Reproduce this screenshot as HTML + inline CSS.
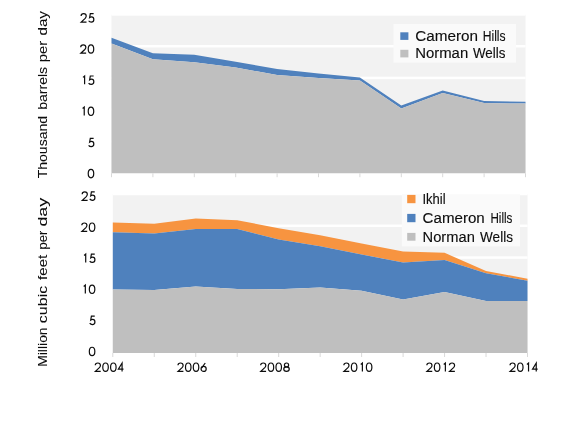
<!DOCTYPE html>
<html><head><meta charset="utf-8"><style>
html,body{margin:0;padding:0;background:#fff;width:580px;height:428px;overflow:hidden}
svg{display:block;will-change:transform}
text{font-family:"Liberation Sans",sans-serif;fill:#0d0d0d;stroke:#0d0d0d;stroke-width:0.12px}
</style></head><body>
<svg width="580" height="428" viewBox="0 0 580 428">
<rect width="580" height="428" fill="#fff"/>

<rect x="111.5" y="14.45" width="414.00" height="158.75" fill="#f2f2f2"/>
<rect x="111.5" y="171.95" width="414.00" height="2.5" fill="#fff"/>
<rect x="111.5" y="140.20" width="414.00" height="2.5" fill="#fff"/>
<rect x="111.5" y="108.45" width="414.00" height="2.5" fill="#fff"/>
<rect x="111.5" y="76.70" width="414.00" height="2.5" fill="#fff"/>
<rect x="111.5" y="44.95" width="414.00" height="2.5" fill="#fff"/>
<rect x="111.5" y="13.20" width="414.00" height="2.5" fill="#fff"/>
<path d="M111.50,37.70 L152.90,53.20 L194.30,54.70 L235.70,61.80 L277.10,69.00 L318.50,73.50 L359.90,77.50 L401.30,105.50 L442.70,90.50 L484.10,101.00 L525.50,101.80 L525.50,103.60 L484.10,103.10 L442.70,93.10 L401.30,108.60 L359.90,80.60 L318.50,78.10 L277.10,75.00 L235.70,67.40 L194.30,62.20 L152.90,59.20 L111.50,43.60 Z" fill="#4f81bd"/>
<path d="M111.50,43.60 L152.90,59.20 L194.30,62.20 L235.70,67.40 L277.10,75.00 L318.50,78.10 L359.90,80.60 L401.30,108.60 L442.70,93.10 L484.10,103.10 L525.50,103.60 L525.50,173.20 L111.50,173.20 Z" fill="#bfbfbf"/>
<rect x="111.00" y="173.20" width="1" height="4" fill="#d9d9d9"/>
<rect x="152.40" y="173.20" width="1" height="4" fill="#d9d9d9"/>
<rect x="193.80" y="173.20" width="1" height="4" fill="#d9d9d9"/>
<rect x="235.20" y="173.20" width="1" height="4" fill="#d9d9d9"/>
<rect x="276.60" y="173.20" width="1" height="4" fill="#d9d9d9"/>
<rect x="318.00" y="173.20" width="1" height="4" fill="#d9d9d9"/>
<rect x="359.40" y="173.20" width="1" height="4" fill="#d9d9d9"/>
<rect x="400.80" y="173.20" width="1" height="4" fill="#d9d9d9"/>
<rect x="442.20" y="173.20" width="1" height="4" fill="#d9d9d9"/>
<rect x="483.60" y="173.20" width="1" height="4" fill="#d9d9d9"/>
<rect x="525.00" y="173.20" width="1" height="4" fill="#d9d9d9"/>
<g transform="translate(87.65,168.85) scale(0.0950,0.0950)" fill="none" stroke="#0d0d0d" stroke-width="12.63" vector-effect="none"><g transform="translate(0,0)"><ellipse cx="35" cy="50" rx="29" ry="44"/></g></g>
<g transform="translate(88.03,137.71) scale(0.0950,0.0950)" fill="none" stroke="#0d0d0d" stroke-width="12.63" vector-effect="none"><g transform="translate(0,0)"><path d="M59,6 L24,6 L17,46 C23,41 29,39 36,39 C51,39 61,51 61,67 C61,83 50,94 34,94 C22,94 12,88 6,80"/></g></g>
<g transform="translate(82.14,106.57) scale(0.0950,0.0950)" fill="none" stroke="#0d0d0d" stroke-width="12.63" vector-effect="none"><g transform="translate(0,0)"><path d="M5,21 L22,6 L22,94"/></g><g transform="translate(58,0)"><ellipse cx="35" cy="50" rx="29" ry="44"/></g></g>
<g transform="translate(82.52,75.43) scale(0.0950,0.0950)" fill="none" stroke="#0d0d0d" stroke-width="12.63" vector-effect="none"><g transform="translate(0,0)"><path d="M5,21 L22,6 L22,94"/></g><g transform="translate(58,0)"><path d="M59,6 L24,6 L17,46 C23,41 29,39 36,39 C51,39 61,51 61,67 C61,83 50,94 34,94 C22,94 12,88 6,80"/></g></g>
<g transform="translate(80.05,44.29) scale(0.0950,0.0950)" fill="none" stroke="#0d0d0d" stroke-width="12.63" vector-effect="none"><g transform="translate(0,0)"><path d="M7,30 C7,15 19,6 34,6 C50,6 61,17 61,31 C61,40 57,47 50,55 L8,94 L64,94"/></g><g transform="translate(80,0)"><ellipse cx="35" cy="50" rx="29" ry="44"/></g></g>
<g transform="translate(80.43,13.15) scale(0.0950,0.0950)" fill="none" stroke="#0d0d0d" stroke-width="12.63" vector-effect="none"><g transform="translate(0,0)"><path d="M7,30 C7,15 19,6 34,6 C50,6 61,17 61,31 C61,40 57,47 50,55 L8,94 L64,94"/></g><g transform="translate(80,0)"><path d="M59,6 L24,6 L17,46 C23,41 29,39 36,39 C51,39 61,51 61,67 C61,83 50,94 34,94 C22,94 12,88 6,80"/></g></g>
<text transform="translate(47.4,178.30) rotate(-90)" font-size="13.5" style="stroke-width:0.05px" textLength="62.40" lengthAdjust="spacingAndGlyphs">Thousand</text>
<text transform="translate(47.4,109.80) rotate(-90)" font-size="13.5" style="stroke-width:0.05px" textLength="42.90" lengthAdjust="spacingAndGlyphs">barrels</text>
<text transform="translate(47.4,62.20) rotate(-90)" font-size="13.5" style="stroke-width:0.05px" textLength="21.40" lengthAdjust="spacingAndGlyphs">per</text>
<text transform="translate(47.4,35.60) rotate(-90)" font-size="13.5" style="stroke-width:0.05px" textLength="24.60" lengthAdjust="spacingAndGlyphs">day</text>
<rect x="393.5" y="24" width="122.5" height="38.6" fill="#fafafa"/>
<rect x="400.3" y="32.3" width="8.1" height="7.6" fill="#4f81bd"/>
<rect x="400.3" y="49.8" width="8.1" height="7.6" fill="#bfbfbf"/>
<text x="415.20" y="40.70" font-size="14" textLength="62.80" lengthAdjust="spacingAndGlyphs">Cameron</text>
<text x="482.70" y="40.70" font-size="14" textLength="22.90" lengthAdjust="spacingAndGlyphs">Hills</text>
<text x="415.20" y="58.40" font-size="14" textLength="53.00" lengthAdjust="spacingAndGlyphs">Norman</text>
<text x="473.00" y="58.40" font-size="14" textLength="32.40" lengthAdjust="spacingAndGlyphs">Wells</text>
<rect x="112.8" y="194.00" width="414.70" height="159.00" fill="#f2f2f2"/>
<rect x="112.8" y="351.75" width="414.70" height="2.5" fill="#fff"/>
<rect x="112.8" y="319.95" width="414.70" height="2.5" fill="#fff"/>
<rect x="112.8" y="288.15" width="414.70" height="2.5" fill="#fff"/>
<rect x="112.8" y="256.35" width="414.70" height="2.5" fill="#fff"/>
<rect x="112.8" y="224.55" width="414.70" height="2.5" fill="#fff"/>
<rect x="112.8" y="192.75" width="414.70" height="2.5" fill="#fff"/>
<path d="M112.80,222.45 L154.27,223.80 L195.74,218.50 L237.21,220.20 L278.68,228.30 L320.15,235.20 L361.62,243.50 L403.09,251.40 L444.56,252.80 L486.03,270.90 L527.50,278.80 L527.50,280.80 L486.03,273.20 L444.56,260.00 L403.09,262.40 L361.62,254.50 L320.15,246.30 L278.68,239.60 L237.21,228.90 L195.74,228.90 L154.27,233.60 L112.80,232.30 Z" fill="#f79440"/>
<path d="M112.80,232.30 L154.27,233.60 L195.74,228.90 L237.21,228.90 L278.68,239.60 L320.15,246.30 L361.62,254.50 L403.09,262.40 L444.56,260.00 L486.03,273.20 L527.50,280.80 L527.50,301.10 L486.03,301.00 L444.56,292.10 L403.09,299.50 L361.62,290.80 L320.15,287.40 L278.68,289.20 L237.21,288.90 L195.74,286.60 L154.27,289.90 L112.80,289.40 Z" fill="#4f81bd"/>
<path d="M112.80,289.40 L154.27,289.90 L195.74,286.60 L237.21,288.90 L278.68,289.20 L320.15,287.40 L361.62,290.80 L403.09,299.50 L444.56,292.10 L486.03,301.00 L527.50,301.10 L527.50,353.00 L112.80,353.00 Z" fill="#bfbfbf"/>
<rect x="112.30" y="353.00" width="1" height="4" fill="#d9d9d9"/>
<rect x="153.77" y="353.00" width="1" height="4" fill="#d9d9d9"/>
<rect x="195.24" y="353.00" width="1" height="4" fill="#d9d9d9"/>
<rect x="236.71" y="353.00" width="1" height="4" fill="#d9d9d9"/>
<rect x="278.18" y="353.00" width="1" height="4" fill="#d9d9d9"/>
<rect x="319.65" y="353.00" width="1" height="4" fill="#d9d9d9"/>
<rect x="361.12" y="353.00" width="1" height="4" fill="#d9d9d9"/>
<rect x="402.59" y="353.00" width="1" height="4" fill="#d9d9d9"/>
<rect x="444.06" y="353.00" width="1" height="4" fill="#d9d9d9"/>
<rect x="485.53" y="353.00" width="1" height="4" fill="#d9d9d9"/>
<rect x="527.00" y="353.00" width="1" height="4" fill="#d9d9d9"/>
<g transform="translate(88.75,346.70) scale(0.0950,0.0950)" fill="none" stroke="#0d0d0d" stroke-width="12.63" vector-effect="none"><g transform="translate(0,0)"><ellipse cx="35" cy="50" rx="29" ry="44"/></g></g>
<g transform="translate(89.13,315.63) scale(0.0950,0.0950)" fill="none" stroke="#0d0d0d" stroke-width="12.63" vector-effect="none"><g transform="translate(0,0)"><path d="M59,6 L24,6 L17,46 C23,41 29,39 36,39 C51,39 61,51 61,67 C61,83 50,94 34,94 C22,94 12,88 6,80"/></g></g>
<g transform="translate(83.24,284.56) scale(0.0950,0.0950)" fill="none" stroke="#0d0d0d" stroke-width="12.63" vector-effect="none"><g transform="translate(0,0)"><path d="M5,21 L22,6 L22,94"/></g><g transform="translate(58,0)"><ellipse cx="35" cy="50" rx="29" ry="44"/></g></g>
<g transform="translate(83.62,253.49) scale(0.0950,0.0950)" fill="none" stroke="#0d0d0d" stroke-width="12.63" vector-effect="none"><g transform="translate(0,0)"><path d="M5,21 L22,6 L22,94"/></g><g transform="translate(58,0)"><path d="M59,6 L24,6 L17,46 C23,41 29,39 36,39 C51,39 61,51 61,67 C61,83 50,94 34,94 C22,94 12,88 6,80"/></g></g>
<g transform="translate(81.15,222.42) scale(0.0950,0.0950)" fill="none" stroke="#0d0d0d" stroke-width="12.63" vector-effect="none"><g transform="translate(0,0)"><path d="M7,30 C7,15 19,6 34,6 C50,6 61,17 61,31 C61,40 57,47 50,55 L8,94 L64,94"/></g><g transform="translate(80,0)"><ellipse cx="35" cy="50" rx="29" ry="44"/></g></g>
<g transform="translate(81.53,191.35) scale(0.0950,0.0950)" fill="none" stroke="#0d0d0d" stroke-width="12.63" vector-effect="none"><g transform="translate(0,0)"><path d="M7,30 C7,15 19,6 34,6 C50,6 61,17 61,31 C61,40 57,47 50,55 L8,94 L64,94"/></g><g transform="translate(80,0)"><path d="M59,6 L24,6 L17,46 C23,41 29,39 36,39 C51,39 61,51 61,67 C61,83 50,94 34,94 C22,94 12,88 6,80"/></g></g>
<text transform="translate(47.4,366.80) rotate(-90)" font-size="13.5" style="stroke-width:0.05px" textLength="39.40" lengthAdjust="spacingAndGlyphs">Million</text>
<text transform="translate(47.4,323.20) rotate(-90)" font-size="13.5" style="stroke-width:0.05px" textLength="37.40" lengthAdjust="spacingAndGlyphs">cubic</text>
<text transform="translate(47.4,280.00) rotate(-90)" font-size="13.5" style="stroke-width:0.05px" textLength="25.30" lengthAdjust="spacingAndGlyphs">feet</text>
<text transform="translate(47.4,249.50) rotate(-90)" font-size="13.5" style="stroke-width:0.05px" textLength="18.70" lengthAdjust="spacingAndGlyphs">per</text>
<text transform="translate(47.4,226.60) rotate(-90)" font-size="13.5" style="stroke-width:0.05px" textLength="28.80" lengthAdjust="spacingAndGlyphs">day</text>
<g transform="translate(94.62,362.45) scale(0.0950,0.0950)" fill="none" stroke="#0d0d0d" stroke-width="12.63" vector-effect="none"><g transform="translate(0,0)"><path d="M7,30 C7,15 19,6 34,6 C50,6 61,17 61,31 C61,40 57,47 50,55 L8,94 L64,94"/></g><g transform="translate(80,0)"><ellipse cx="35" cy="50" rx="29" ry="44"/></g><g transform="translate(162,0)"><ellipse cx="35" cy="50" rx="29" ry="44"/></g><g transform="translate(244,0)"><path d="M45,94 L45,6 L6,70 L60,70"/></g></g>
<g transform="translate(177.32,362.45) scale(0.0950,0.0950)" fill="none" stroke="#0d0d0d" stroke-width="12.63" vector-effect="none"><g transform="translate(0,0)"><path d="M7,30 C7,15 19,6 34,6 C50,6 61,17 61,31 C61,40 57,47 50,55 L8,94 L64,94"/></g><g transform="translate(80,0)"><ellipse cx="35" cy="50" rx="29" ry="44"/></g><g transform="translate(162,0)"><ellipse cx="35" cy="50" rx="29" ry="44"/></g><g transform="translate(244,0)"><path d="M50,6 L13,58"/><ellipse cx="33" cy="68" rx="27" ry="26"/></g></g>
<g transform="translate(260.01,362.45) scale(0.0950,0.0950)" fill="none" stroke="#0d0d0d" stroke-width="12.63" vector-effect="none"><g transform="translate(0,0)"><path d="M7,30 C7,15 19,6 34,6 C50,6 61,17 61,31 C61,40 57,47 50,55 L8,94 L64,94"/></g><g transform="translate(80,0)"><ellipse cx="35" cy="50" rx="29" ry="44"/></g><g transform="translate(162,0)"><ellipse cx="35" cy="50" rx="29" ry="44"/></g><g transform="translate(244,0)"><ellipse cx="35" cy="27" rx="22" ry="21"/><ellipse cx="35" cy="70" rx="29" ry="24"/></g></g>
<g transform="translate(343.19,362.45) scale(0.0950,0.0950)" fill="none" stroke="#0d0d0d" stroke-width="12.63" vector-effect="none"><g transform="translate(0,0)"><path d="M7,30 C7,15 19,6 34,6 C50,6 61,17 61,31 C61,40 57,47 50,55 L8,94 L64,94"/></g><g transform="translate(80,0)"><ellipse cx="35" cy="50" rx="29" ry="44"/></g><g transform="translate(180,0)"><path d="M5,21 L22,6 L22,94"/></g><g transform="translate(238,0)"><ellipse cx="35" cy="50" rx="29" ry="44"/></g></g>
<g transform="translate(426.18,362.45) scale(0.0950,0.0950)" fill="none" stroke="#0d0d0d" stroke-width="12.63" vector-effect="none"><g transform="translate(0,0)"><path d="M7,30 C7,15 19,6 34,6 C50,6 61,17 61,31 C61,40 57,47 50,55 L8,94 L64,94"/></g><g transform="translate(80,0)"><ellipse cx="35" cy="50" rx="29" ry="44"/></g><g transform="translate(180,0)"><path d="M5,21 L22,6 L22,94"/></g><g transform="translate(238,0)"><path d="M7,30 C7,15 19,6 34,6 C50,6 61,17 61,31 C61,40 57,47 50,55 L8,94 L64,94"/></g></g>
<g transform="translate(509.35,362.45) scale(0.0950,0.0950)" fill="none" stroke="#0d0d0d" stroke-width="12.63" vector-effect="none"><g transform="translate(0,0)"><path d="M7,30 C7,15 19,6 34,6 C50,6 61,17 61,31 C61,40 57,47 50,55 L8,94 L64,94"/></g><g transform="translate(80,0)"><ellipse cx="35" cy="50" rx="29" ry="44"/></g><g transform="translate(180,0)"><path d="M5,21 L22,6 L22,94"/></g><g transform="translate(238,0)"><path d="M45,94 L45,6 L6,70 L60,70"/></g></g>
<rect x="401.8" y="194.2" width="118.2" height="52.1" fill="#fafafa"/>
<rect x="407.2" y="194.9" width="8.3" height="8.3" fill="#f79440"/>
<rect x="407.2" y="213.9" width="8.3" height="8.3" fill="#4f81bd"/>
<rect x="407.2" y="232.9" width="8.3" height="7.8" fill="#bfbfbf"/>
<text x="422.50" y="203.70" font-size="14" textLength="23.10" lengthAdjust="spacingAndGlyphs">Ikhil</text>
<text x="422.60" y="222.70" font-size="14" textLength="62.20" lengthAdjust="spacingAndGlyphs">Cameron</text>
<text x="490.50" y="222.70" font-size="14" textLength="21.90" lengthAdjust="spacingAndGlyphs">Hills</text>
<text x="422.60" y="241.70" font-size="14" textLength="52.20" lengthAdjust="spacingAndGlyphs">Norman</text>
<text x="480.10" y="241.70" font-size="14" textLength="32.80" lengthAdjust="spacingAndGlyphs">Wells</text>
</svg>
</body></html>
